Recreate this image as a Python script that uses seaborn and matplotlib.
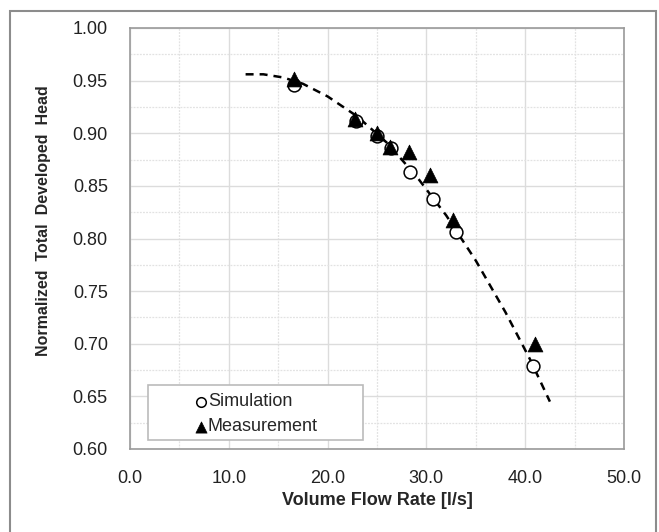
import matplotlib
matplotlib.use('Agg')
import matplotlib.pyplot as plt
import matplotlib.patches as mpatches
from matplotlib.ticker import MultipleLocator, FormatStrFormatter
import pandas as pd
import seaborn as sns

# values
sim_flow = [16.6, 22.9, 25.0, 26.4, 28.3, 30.7, 33.0, 40.8]
sim_head = [0.946, 0.912, 0.897, 0.886, 0.863, 0.838, 0.806, 0.679]
meas_flow = [16.6, 22.8, 25.0, 26.3, 28.2, 30.4, 32.7, 41.0]
meas_head = [0.952, 0.914, 0.900, 0.887, 0.882, 0.860, 0.818, 0.700]
# dashed trend line
trend_flow = [11.7, 13.5, 15.5, 17.5, 20.0, 23.0, 26.0, 29.0, 32.0, 35.0, 38.0, 40.5, 42.5]
trend_head = [0.956, 0.956, 0.953, 0.947, 0.935, 0.916, 0.891, 0.859, 0.822, 0.779, 0.730, 0.685, 0.645]

sns.set_style('white')
plt.rcParams['font.family'] = ['Liberation Sans', 'DejaVu Sans']

fig = plt.figure(figsize=(6.59, 5.32), dpi=100)
ax = fig.add_axes([130 / 659, 1 - 449 / 532, 494 / 659, 421 / 532])

trend = pd.DataFrame({'flow': trend_flow, 'head': trend_head})
sns.lineplot(data=trend, x='flow', y='head', ax=ax, color='black',
             linestyle=(0, (3.2, 2.4)), linewidth=1.8, sort=False, zorder=2)

sim = pd.DataFrame({'flow': sim_flow, 'head': sim_head})
meas = pd.DataFrame({'flow': meas_flow, 'head': meas_head})
sns.scatterplot(data=sim, x='flow', y='head', ax=ax, marker='o', s=85,
                facecolor='white', edgecolor='black', linewidth=1.1,
                label='Simulation', zorder=3)
sns.scatterplot(data=meas, x='flow', y='head', ax=ax, marker='^', s=115,
                color='black', edgecolor='black', linewidth=0.5,
                label='Measurement', zorder=4)

ax.set_xlim(0, 50)
ax.set_ylim(0.60, 1.00)
ax.xaxis.set_major_locator(MultipleLocator(10))
ax.xaxis.set_minor_locator(MultipleLocator(5))
ax.yaxis.set_major_locator(MultipleLocator(0.05))
ax.yaxis.set_minor_locator(MultipleLocator(0.025))
ax.xaxis.set_major_formatter(FormatStrFormatter('%.1f'))
ax.yaxis.set_major_formatter(FormatStrFormatter('%.2f'))

ax.grid(which='major', color='#dcdcdc', linewidth=1.0)
ax.grid(which='minor', color='#e2e2e2', linewidth=0.9, linestyle=(0, (1.5, 1)))
ax.set_axisbelow(True)
for sp in ax.spines.values():
    sp.set_color('#9a9a9a')
    sp.set_linewidth(1.2)

ax.tick_params(which='major', length=5, color='#9a9a9a', labelsize=13,
               labelcolor='#222222', direction='out')
ax.tick_params(axis='y', pad=11)
ax.tick_params(axis='x', pad=10)
ax.tick_params(which='minor', length=0)

ax.set_xlabel('Volume Flow Rate [l/s]', fontsize=13, fontweight='bold', labelpad=4)
ax.set_ylabel('Normalized  Total  Developed  Head', fontsize=11.5, fontweight='bold')
ax.yaxis.set_label_coords(-79 / 494, (449 - 221) / 421)

# legend box like the original: wide frame, markers set in from the left
box = mpatches.Rectangle((18 / 494, 9 / 421), 215 / 494, 55 / 421,
                         transform=ax.transAxes, facecolor='white',
                         edgecolor='#bbbbbb', linewidth=1.2, zorder=5)
ax.add_patch(box)
leg = ax.legend(loc='lower left', bbox_to_anchor=(58 / 494, 10 / 421), fontsize=13,
                frameon=False, handletextpad=-0.1, borderpad=0.2, labelspacing=0.45,
                handlelength=1.0, borderaxespad=0, markerscale=0.75)
leg.set_zorder(6)

# outer border around the figure
fig.patches.append(mpatches.Rectangle((10 / 659, -0.02), 646 / 659, 1 - 11 / 532 + 0.02,
                                      transform=fig.transFigure, fill=False,
                                      edgecolor='#8c8c8c', linewidth=1.5))

fig.savefig('out.png', dpi=100)
